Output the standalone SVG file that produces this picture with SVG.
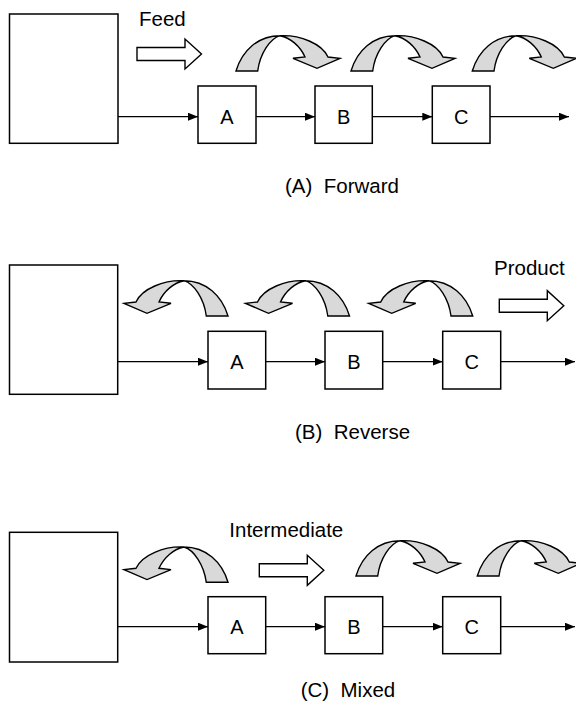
<svg xmlns="http://www.w3.org/2000/svg" width="576" height="709" viewBox="0 0 576 709">
<style>
.box{fill:#fff;stroke:#000;stroke-width:1.5}
.ln{fill:none;stroke:#000;stroke-width:1.3}
.curl{fill:#d9d9d9;stroke:#000;stroke-width:1.4;stroke-linejoin:miter}
.blk{fill:#fff;stroke:#000;stroke-width:1.4}
text{font-family:"Liberation Sans",Arial,Helvetica,sans-serif;fill:#000}
.lbl{font-size:20.5px}
.cap{font-size:20.5px}
.let{font-size:20px;text-anchor:middle}
</style>
<defs>
<marker id="ah" markerUnits="userSpaceOnUse" markerWidth="11" markerHeight="9" refX="10" refY="4" orient="auto"><path d="M0,0 L10,4 L0,8 Z" fill="#000"/></marker>
<path id="fwd" class="curl" d="M-44,35.3 C-38,15 -22,0 0,0 C20,-1 42,8 48,21.3 L60,22.6 L37,32.6 L13,22.6 L25,21.3 C20,10 10,2 0,0 C-10,3 -20,18 -22.3,35.3 Z"/>
<path id="blk" class="blk" d="M0,-6.5 L48,-6.5 L48,-15 L64.5,0 L48,15 L48,6.5 L0,6.5 Z"/>
</defs>

<g id="connectors">
<line class="ln" x1="118" y1="116.7" x2="198" y2="116.7" marker-end="url(#ah)"/>
<line class="ln" x1="256" y1="116.7" x2="315" y2="116.7" marker-end="url(#ah)"/>
<line class="ln" x1="372.3" y1="116.7" x2="432.3" y2="116.7" marker-end="url(#ah)"/>
<line class="ln" x1="490" y1="116.7" x2="569" y2="116.7" marker-end="url(#ah)"/>

<line class="ln" x1="117.7" y1="361.7" x2="208" y2="361.7" marker-end="url(#ah)"/>
<line class="ln" x1="265.7" y1="361.7" x2="325" y2="361.7" marker-end="url(#ah)"/>
<line class="ln" x1="382.7" y1="361.7" x2="442.7" y2="361.7" marker-end="url(#ah)"/>
<line class="ln" x1="500.7" y1="361.7" x2="575" y2="361.7" marker-end="url(#ah)"/>

<line class="ln" x1="117.7" y1="626.7" x2="208" y2="626.7" marker-end="url(#ah)"/>
<line class="ln" x1="265.7" y1="626.7" x2="325" y2="626.7" marker-end="url(#ah)"/>
<line class="ln" x1="382.7" y1="626.7" x2="442.7" y2="626.7" marker-end="url(#ah)"/>
<line class="ln" x1="500.7" y1="626.7" x2="575" y2="626.7" marker-end="url(#ah)"/>
</g>

<!-- Panel A -->
<g id="A-source"><rect class="box" x="9.5" y="14" width="108.5" height="129.3"/></g>
<g id="A-nodeA"><rect class="box" x="198" y="86" width="58" height="57.3"/><text class="let" x="227" y="124">A</text></g>
<g id="A-nodeB"><rect class="box" x="315" y="86" width="57.3" height="57.3"/><text class="let" x="343.7" y="124">B</text></g>
<g id="A-nodeC"><rect class="box" x="432.3" y="86" width="57.7" height="57.3"/><text class="let" x="461.2" y="124">C</text></g>
<g id="A-feed"><use href="#blk" x="137" y="54"/><text class="lbl" x="139" y="25.7">Feed</text></g>
<g id="A-curls">
<use href="#fwd" transform="translate(280,35.7)"/>
<use href="#fwd" transform="translate(395,35.7)"/>
<use href="#fwd" transform="translate(516.3,35.7)"/>
</g>
<g id="A-caption"><text class="cap" x="285" y="192.5" xml:space="preserve">(A)  Forward</text></g>

<!-- Panel B -->
<g id="B-source"><rect class="box" x="9.5" y="265" width="108.2" height="129.3"/></g>
<g id="B-nodeA"><rect class="box" x="208" y="331.3" width="57.7" height="57.7"/><text class="let" x="236.9" y="369">A</text></g>
<g id="B-nodeB"><rect class="box" x="325" y="331.3" width="57.7" height="57.7"/><text class="let" x="353.9" y="369">B</text></g>
<g id="B-nodeC"><rect class="box" x="442.7" y="331.3" width="58" height="57.7"/><text class="let" x="471.7" y="369">C</text></g>
<g id="B-product"><use href="#blk" x="499.3" y="305.7"/><text class="lbl" x="494" y="275">Product</text></g>
<g id="B-curls">
<use href="#fwd" transform="translate(184,280.7) scale(-1,1)"/>
<use href="#fwd" transform="translate(305.5,280.7) scale(-1,1)"/>
<use href="#fwd" transform="translate(428.7,280.7) scale(-1,1)"/>
</g>
<g id="B-caption"><text class="cap" x="295" y="439" xml:space="preserve">(B)  Reverse</text></g>

<!-- Panel C -->
<g id="C-source"><rect class="box" x="9.5" y="532.3" width="108.2" height="129.7"/></g>
<g id="C-nodeA"><rect class="box" x="208" y="596.7" width="57.7" height="57"/><text class="let" x="236.9" y="634">A</text></g>
<g id="C-nodeB"><rect class="box" x="325" y="596.7" width="57.7" height="57"/><text class="let" x="353.9" y="634">B</text></g>
<g id="C-nodeC"><rect class="box" x="442.7" y="596.7" width="58" height="57"/><text class="let" x="471.7" y="634">C</text></g>
<g id="C-intermediate"><use href="#blk" x="259.3" y="570.3"/><text class="lbl" x="229.3" y="537.3">Intermediate</text></g>
<g id="C-curls">
<use href="#fwd" transform="translate(184,547) scale(-1,1)"/>
<use href="#fwd" transform="translate(400,540.7)"/>
<use href="#fwd" transform="translate(521.3,540.7)"/>
</g>
<g id="C-caption"><text class="cap" x="300.7" y="697" xml:space="preserve">(C)  Mixed</text></g>
</svg>
